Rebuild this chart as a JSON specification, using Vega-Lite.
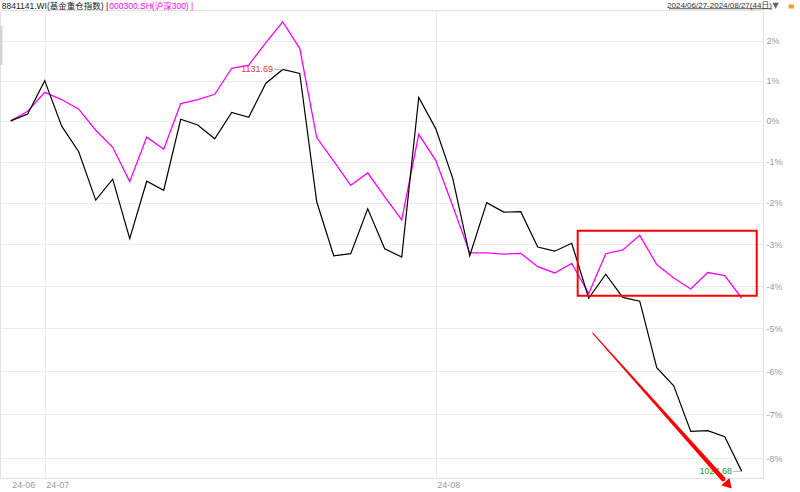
{
  "$schema": "https://vega.github.io/schema/vega-lite/v6.json",
  "width": 763,
  "height": 468,
  "autosize": {"type": "none"},
  "padding": {"left": 0, "top": 10, "right": 37, "bottom": 14},
  "background": "white",
  "config": {"view": {"stroke": "#e2e2e2", "strokeWidth": 1}, "font": "Liberation Sans"},
  "datasets": {
    "series": [
      {"date": "2024-06-27", "i": 0, "s": "fund", "v": 1.0000},
      {"date": "2024-06-28", "i": 1, "s": "fund", "v": 1.0017},
      {"date": "2024-07-01", "i": 2, "s": "fund", "v": 1.0100},
      {"date": "2024-07-02", "i": 3, "s": "fund", "v": 0.9987},
      {"date": "2024-07-03", "i": 4, "s": "fund", "v": 0.9924},
      {"date": "2024-07-04", "i": 5, "s": "fund", "v": 0.9806},
      {"date": "2024-07-05", "i": 6, "s": "fund", "v": 0.9857},
      {"date": "2024-07-08", "i": 7, "s": "fund", "v": 0.9713},
      {"date": "2024-07-09", "i": 8, "s": "fund", "v": 0.9852},
      {"date": "2024-07-10", "i": 9, "s": "fund", "v": 0.9830},
      {"date": "2024-07-11", "i": 10, "s": "fund", "v": 1.0004},
      {"date": "2024-07-12", "i": 11, "s": "fund", "v": 0.9990},
      {"date": "2024-07-15", "i": 12, "s": "fund", "v": 0.9956},
      {"date": "2024-07-16", "i": 13, "s": "fund", "v": 1.0021},
      {"date": "2024-07-17", "i": 14, "s": "fund", "v": 1.0009},
      {"date": "2024-07-18", "i": 15, "s": "fund", "v": 1.0093},
      {"date": "2024-07-19", "i": 16, "s": "fund", "v": 1.0128},
      {"date": "2024-07-22", "i": 17, "s": "fund", "v": 1.0118},
      {"date": "2024-07-23", "i": 18, "s": "fund", "v": 0.9802},
      {"date": "2024-07-24", "i": 19, "s": "fund", "v": 0.9672},
      {"date": "2024-07-25", "i": 20, "s": "fund", "v": 0.9677},
      {"date": "2024-07-26", "i": 21, "s": "fund", "v": 0.9785},
      {"date": "2024-07-29", "i": 22, "s": "fund", "v": 0.9689},
      {"date": "2024-07-30", "i": 23, "s": "fund", "v": 0.9669},
      {"date": "2024-07-31", "i": 24, "s": "fund", "v": 1.0058},
      {"date": "2024-08-01", "i": 25, "s": "fund", "v": 0.9981},
      {"date": "2024-08-02", "i": 26, "s": "fund", "v": 0.9859},
      {"date": "2024-08-05", "i": 27, "s": "fund", "v": 0.9672},
      {"date": "2024-08-06", "i": 28, "s": "fund", "v": 0.9800},
      {"date": "2024-08-07", "i": 29, "s": "fund", "v": 0.9777},
      {"date": "2024-08-08", "i": 30, "s": "fund", "v": 0.9778},
      {"date": "2024-08-09", "i": 31, "s": "fund", "v": 0.9693},
      {"date": "2024-08-12", "i": 32, "s": "fund", "v": 0.9683},
      {"date": "2024-08-13", "i": 33, "s": "fund", "v": 0.9702},
      {"date": "2024-08-14", "i": 34, "s": "fund", "v": 0.9571},
      {"date": "2024-08-15", "i": 35, "s": "fund", "v": 0.9628},
      {"date": "2024-08-16", "i": 36, "s": "fund", "v": 0.9573},
      {"date": "2024-08-19", "i": 37, "s": "fund", "v": 0.9564},
      {"date": "2024-08-20", "i": 38, "s": "fund", "v": 0.9408},
      {"date": "2024-08-21", "i": 39, "s": "fund", "v": 0.9366},
      {"date": "2024-08-22", "i": 40, "s": "fund", "v": 0.9261},
      {"date": "2024-08-23", "i": 41, "s": "fund", "v": 0.9263},
      {"date": "2024-08-26", "i": 42, "s": "fund", "v": 0.9249},
      {"date": "2024-08-27", "i": 43, "s": "fund", "v": 0.9170},
      {"date": "2024-06-27", "i": 0, "s": "hs300", "v": 1.0000},
      {"date": "2024-06-28", "i": 1, "s": "hs300", "v": 1.0024},
      {"date": "2024-07-01", "i": 2, "s": "hs300", "v": 1.0071},
      {"date": "2024-07-02", "i": 3, "s": "hs300", "v": 1.0053},
      {"date": "2024-07-03", "i": 4, "s": "hs300", "v": 1.0029},
      {"date": "2024-07-04", "i": 5, "s": "hs300", "v": 0.9977},
      {"date": "2024-07-05", "i": 6, "s": "hs300", "v": 0.9935},
      {"date": "2024-07-08", "i": 7, "s": "hs300", "v": 0.9851},
      {"date": "2024-07-09", "i": 8, "s": "hs300", "v": 0.9960},
      {"date": "2024-07-10", "i": 9, "s": "hs300", "v": 0.9930},
      {"date": "2024-07-11", "i": 10, "s": "hs300", "v": 1.0043},
      {"date": "2024-07-12", "i": 11, "s": "hs300", "v": 1.0053},
      {"date": "2024-07-15", "i": 12, "s": "hs300", "v": 1.0066},
      {"date": "2024-07-16", "i": 13, "s": "hs300", "v": 1.0131},
      {"date": "2024-07-17", "i": 14, "s": "hs300", "v": 1.0139},
      {"date": "2024-07-18", "i": 15, "s": "hs300", "v": 1.0195},
      {"date": "2024-07-19", "i": 16, "s": "hs300", "v": 1.0248},
      {"date": "2024-07-22", "i": 17, "s": "hs300", "v": 1.0181},
      {"date": "2024-07-23", "i": 18, "s": "hs300", "v": 0.9959},
      {"date": "2024-07-24", "i": 19, "s": "hs300", "v": 0.9901},
      {"date": "2024-07-25", "i": 20, "s": "hs300", "v": 0.9842},
      {"date": "2024-07-26", "i": 21, "s": "hs300", "v": 0.9872},
      {"date": "2024-07-29", "i": 22, "s": "hs300", "v": 0.9814},
      {"date": "2024-07-30", "i": 23, "s": "hs300", "v": 0.9758},
      {"date": "2024-07-31", "i": 24, "s": "hs300", "v": 0.9967},
      {"date": "2024-08-01", "i": 25, "s": "hs300", "v": 0.9903},
      {"date": "2024-08-02", "i": 26, "s": "hs300", "v": 0.9792},
      {"date": "2024-08-05", "i": 27, "s": "hs300", "v": 0.9679},
      {"date": "2024-08-06", "i": 28, "s": "hs300", "v": 0.9679},
      {"date": "2024-08-07", "i": 29, "s": "hs300", "v": 0.9676},
      {"date": "2024-08-08", "i": 30, "s": "hs300", "v": 0.9678},
      {"date": "2024-08-09", "i": 31, "s": "hs300", "v": 0.9646},
      {"date": "2024-08-12", "i": 32, "s": "hs300", "v": 0.9631},
      {"date": "2024-08-13", "i": 33, "s": "hs300", "v": 0.9654},
      {"date": "2024-08-14", "i": 34, "s": "hs300", "v": 0.9582},
      {"date": "2024-08-15", "i": 35, "s": "hs300", "v": 0.9677},
      {"date": "2024-08-16", "i": 36, "s": "hs300", "v": 0.9686},
      {"date": "2024-08-19", "i": 37, "s": "hs300", "v": 0.9721},
      {"date": "2024-08-20", "i": 38, "s": "hs300", "v": 0.9651},
      {"date": "2024-08-21", "i": 39, "s": "hs300", "v": 0.9619},
      {"date": "2024-08-22", "i": 40, "s": "hs300", "v": 0.9593},
      {"date": "2024-08-23", "i": 41, "s": "hs300", "v": 0.9632},
      {"date": "2024-08-26", "i": 42, "s": "hs300", "v": 0.9625},
      {"date": "2024-08-27", "i": 43, "s": "hs300", "v": 0.9571}
    ]
  },
  "encoding": {
    "x": {
      "field": "i",
      "type": "quantitative",
      "scale": {"domain": [-0.63, 44.25], "nice": false, "zero": false},
      "axis": {
        "values": [0, 2, 25],
        "labelExpr": "datum.value == 0 ? '24-06' : (datum.value == 2 ? '24-07' : '24-08')",
        "grid": true,
        "gridColor": "#ebebeb",
        "gridOpacity": {"condition": {"test": "datum.value == 0", "value": 0}, "value": 1},
        "ticks": false,
        "domain": false,
        "labelAlign": "left",
        "labelBaseline": "top",
        "labelFlush": false,
        "labelOverlap": false,
        "labelColor": "#9a9a9a",
        "labelFontSize": 9,
        "labelPadding": 2,
        "labelOffset": 1,
        "title": null
      }
    },
    "y": {
      "field": "v",
      "type": "quantitative",
      "scale": {"type": "log", "domain": [0.9155, 1.0278], "nice": false, "zero": false},
      "axis": {
        "orient": "right",
        "values": [0.92, 0.93, 0.94, 0.95, 0.96, 0.97, 0.98, 0.99, 1.0, 1.01, 1.02],
        "labelExpr": "replace(format(datum.value - 1, '.0%'), '\u2212', '-')",
        "grid": true,
        "gridColor": "#ebebeb",
        "ticks": false,
        "domain": false,
        "labelAlign": "left",
        "labelBaseline": "middle",
        "labelFlush": false,
        "labelOverlap": false,
        "labelColor": "#9a9a9a",
        "labelFontSize": 9,
        "labelPadding": 3,
        "title": null
      }
    }
  },
  "layer": [
    {
      "data": {"values": [{"i": -0.63, "i2": -0.483, "v": 1.02374, "v2": 1.01392}]},
      "mark": {"type": "rect", "color": "#d4d4d4"},
      "encoding": {"x2": {"field": "i2"}, "y2": {"field": "v2"}}
    },
    {
      "data": {"name": "series"},
      "transform": [{"filter": "datum.s == 'hs300'"}],
      "mark": {"type": "line", "color": "#ff00ff", "strokeWidth": 1.3},
      "encoding": {"order": {"field": "i"}}
    },
    {
      "data": {"name": "series"},
      "transform": [{"filter": "datum.s == 'fund'"}],
      "mark": {"type": "line", "color": "#000000", "strokeWidth": 1.2},
      "encoding": {"order": {"field": "i"}}
    },
    {
      "data": {"values": [{"i": 33.35, "i2": 43.88, "v": 0.9732, "v2": 0.95767}]},
      "mark": {"type": "rect", "fill": "transparent", "stroke": "#ff0000", "strokeWidth": 2},
      "encoding": {"x2": {"field": "i2"}, "y2": {"field": "v2"}}
    },
    {
      "data": {"values": [{"i": 15.49, "i2": 16, "v": 1.0128}, {"i": 42.49, "i2": 43, "v": 0.917}]},
      "mark": {"type": "rule", "color": "#88c8e0", "strokeWidth": 1},
      "encoding": {"x2": {"field": "i2"}}
    },
    {
      "data": {"values": [{"i": 15.49, "v": 1.0128, "label": "1131.69"}]},
      "mark": {"type": "text", "align": "right", "baseline": "middle", "dx": -1, "fontSize": 9, "color": "#e23b30"},
      "encoding": {"text": {"field": "label"}}
    },
    {
      "data": {"values": [{"i": 42.49, "v": 0.917, "label": "1024.68"}]},
      "mark": {"type": "text", "align": "right", "baseline": "middle", "dx": -1, "fontSize": 9, "color": "#1f9b3a"},
      "encoding": {"text": {"field": "label"}}
    },
    {
      "data": {"values": [{"i": 34.235, "v": 0.9489, "w": 1}, {"i": 41.9, "v": 0.91527, "w": 4.8}]},
      "mark": {"type": "trail", "color": "#ff0000"},
      "encoding": {"size": {"field": "w", "type": "quantitative", "scale": null, "legend": null}, "order": {"field": "i"}}
    },
    {
      "data": {"values": [{"i": 42.22, "v": 0.9139}]},
      "mark": {"type": "point", "shape": "triangle-down", "filled": true, "color": "#ff0000", "opacity": 1, "size": 120, "angle": 318.4},
      "encoding": {}
    },
    {
      "data": {"values": [{"i": -0.53, "v": 1.02882, "label": "8841141.WI(基金重仓指数) |"}]},
      "mark": {"type": "text", "align": "left", "baseline": "middle", "fontSize": 8.5, "font": "Liberation Sans, Noto Sans CJK SC", "color": "#222222"},
      "encoding": {"text": {"field": "label"}}
    },
    {
      "data": {"values": [{"i": 5.8, "v": 1.02882, "label": "000300.SH(沪深300) |"}]},
      "mark": {"type": "text", "align": "left", "baseline": "middle", "fontSize": 8.5, "font": "Liberation Sans, Noto Sans CJK SC", "color": "#ff00ff"},
      "encoding": {"text": {"field": "label"}}
    },
    {
      "data": {"values": [{"i": 44.78, "v": 1.02882, "label": "2024/06/27-2024/08/27(44日)"}]},
      "mark": {"type": "text", "align": "right", "baseline": "middle", "fontSize": 8, "font": "Liberation Sans, Noto Sans CJK SC", "color": "#333333"},
      "encoding": {"text": {"field": "label"}}
    },
    {
      "data": {"values": [{"i": 38.72, "i2": 44.78, "v": 1.02813}]},
      "mark": {"type": "rule", "color": "#333333", "strokeWidth": 0.8},
      "encoding": {"x2": {"field": "i2"}}
    },
    {
      "data": {"values": [{"i": 44.99, "v": 1.02882, "label": "▼"}]},
      "mark": {"type": "text", "align": "center", "baseline": "middle", "fontSize": 8, "font": "DejaVu Sans", "color": "#666666"},
      "encoding": {"text": {"field": "label"}}
    },
    {
      "data": {"values": [{"i": 45.75, "i2": 46.07, "v": 1.0292, "v2": 1.02818}]},
      "mark": {"type": "rect", "color": "#f0a020"},
      "encoding": {"x2": {"field": "i2"}, "y2": {"field": "v2"}}
    }
  ]
}
